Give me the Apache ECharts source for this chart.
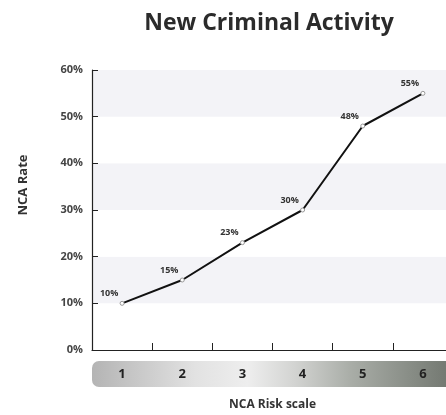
<!DOCTYPE html>
<html>
<head>
<meta charset="utf-8">
<script src="https://cdn.jsdelivr.net/npm/echarts@6/dist/echarts.min.js"></script>
<style>
  html, body { margin: 0; padding: 0; background: #fff; }
  #chart { width: 446px; height: 415px; }
</style>
</head>
<body>
<div id="chart"></div>
<script>
// Risk scale levels and the new-criminal-activity rate observed at each level (%)
const riskLevels = ['1', '2', '3', '4', '5', '6'];
const ncaRates = [10, 15, 23, 30, 48, 55];
const yTicks = { min: 0, max: 60, step: 10 };

const FONT = '"Open Sans", "Noto Sans", sans-serif';

const chart = echarts.init(document.getElementById('chart'), null, { renderer: 'canvas' });

chart.setOption({
  animation: false,
  backgroundColor: '#ffffff',
  title: {
    text: 'New Criminal Activity',
    left: 264,
    textAlign: 'center',
    top: 7,
    textStyle: { fontFamily: FONT, fontSize: 23, fontWeight: 'bold', color: '#2b2b2b' }
  },
  grid: { left: 92, top: 70, width: 361, bottom: 65, containLabel: false, outerBoundsMode: 'none' },
  // shaded band behind the risk-scale numbers
  graphic: [{
    type: 'rect',
    left: 92,
    top: 361,
    z: 0,
    shape: { width: 370, height: 26, r: 7 },
    style: {
      fill: new echarts.graphic.LinearGradient(0, 0, 1, 0, [
        { offset: 0.00, color: '#b4b4b4' },
        { offset: 0.28, color: '#e2e2e2' },
        { offset: 0.42, color: '#eeeeee' },
        { offset: 0.55, color: '#d2d3d1' },
        { offset: 0.70, color: '#a9ada7' },
        { offset: 0.86, color: '#888d86' },
        { offset: 1.00, color: '#6c716a' }
      ])
    }
  }],
  xAxis: {
    type: 'category',
    data: riskLevels,
    boundaryGap: true,
    name: 'NCA Risk scale',
    nameLocation: 'middle',
    nameGap: 49,
    nameTextStyle: { fontFamily: FONT, fontSize: 12, fontWeight: 'bold', color: '#333' },
    axisLine: { lineStyle: { color: '#222', width: 1.2 } },
    axisTick: { show: true, inside: true, length: 7, alignWithLabel: false, lineStyle: { color: '#222' } },
    axisLabel: { margin: 18, fontFamily: FONT, fontSize: 13, fontWeight: 'bold', color: '#222' },
    splitLine: { show: false },
    z: 5
  },
  yAxis: {
    type: 'value',
    min: yTicks.min,
    max: yTicks.max,
    interval: yTicks.step,
    name: 'NCA Rate',
    nameLocation: 'middle',
    nameGap: 62,
    nameTextStyle: { fontFamily: FONT, fontSize: 13, fontWeight: 'bold', color: '#333', padding: [0, 0, 0, 50] },
    axisLine: { show: true, lineStyle: { color: '#222', width: 1.2 } },
    axisTick: { show: true, inside: true, length: 6, lineStyle: { color: '#222' } },
    axisLabel: { margin: 9, formatter: '{value}%', fontFamily: FONT, fontSize: 11, fontWeight: 'bold', color: '#444' },
    splitLine: { show: false },
    splitArea: { show: true, areaStyle: { color: ['#ffffff', '#f3f3f7'] } }
  },
  series: [{
    type: 'line',
    data: ncaRates,
    symbol: 'circle',
    symbolSize: 4,
    itemStyle: { color: '#ffffff', borderColor: '#999', borderWidth: 1 },
    lineStyle: { color: '#111', width: 2 },
    label: {
      show: true,
      position: 'top',
      distance: 3,
      offset: [-13, 0],
      formatter: '{c}%',
      fontFamily: FONT,
      fontSize: 9,
      fontWeight: 'bold',
      color: '#333'
    },
    z: 10
  }]
});
</script>
</body>
</html>
